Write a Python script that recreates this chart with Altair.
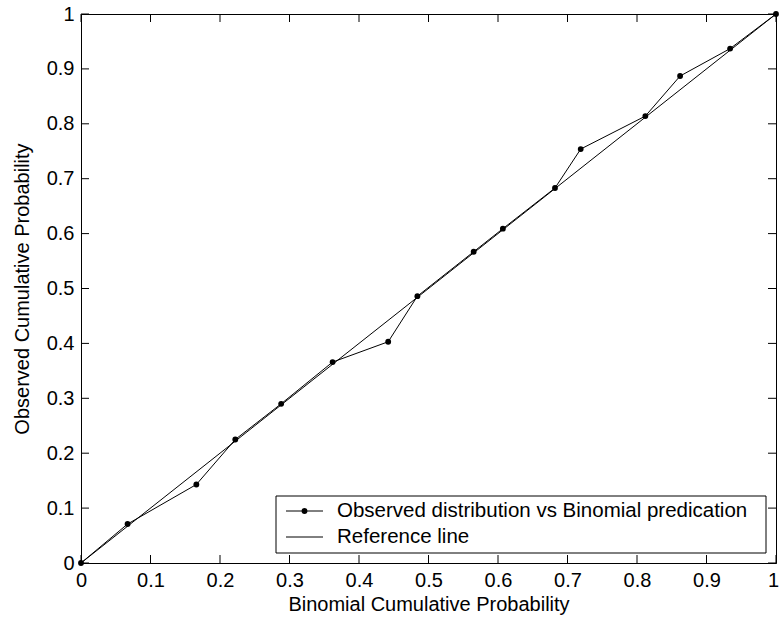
import altair as alt
import pandas as pd

# ---- data ----
obs_x = [0.0, 0.067, 0.166, 0.222, 0.288, 0.362, 0.442, 0.484, 0.565, 0.607, 0.682, 0.719, 0.812, 0.862, 0.934, 1.0]
obs_y = [0.0, 0.071, 0.143, 0.225, 0.290, 0.366, 0.403, 0.486, 0.567, 0.609, 0.683, 0.754, 0.814, 0.887, 0.937, 1.0]
ref_x = [0.0, 1.0]
ref_y = [0.0, 1.0]
tick_vals = [0, 0.1, 0.2, 0.3, 0.4, 0.5, 0.6, 0.7, 0.8, 0.9, 1.0]
legend_labels = ["Observed distribution vs Binomial predication", "Reference line"]
x_title = "Binomial Cumulative Probability"
y_title = "Observed Cumulative Probability"

W, H = 695, 549
FONT = "Liberation Sans"
FS = 20
TL = 8  # inner tick length

obs = pd.DataFrame({"x": obs_x, "y": obs_y})
ref = pd.DataFrame({"x": ref_x, "y": ref_y})
ticks = pd.DataFrame({"x": tick_vals, "y": tick_vals})
one = pd.DataFrame({"a": [0]})

xs = alt.Scale(domain=[0, 1], nice=False, zero=False)
ys = alt.Scale(domain=[0, 1], nice=False, zero=False)

x_axis = alt.Axis(
    values=tick_vals, format="~g", ticks=False, grid=False, labelFlush=False,
    labelOverlap=False, labelBound=False,
    labelOffset={"condition": {"test": "datum.value >= 1", "value": -3}, "value": 0},
    labelPadding=7, labelFont=FONT, labelFontSize=FS, labelColor="black",
    domainColor="black", title=x_title, titleFont=FONT, titleFontSize=FS,
    titleFontWeight="normal", titleColor="black", titleY=41, titleBaseline="middle")
y_axis = alt.Axis(
    values=tick_vals, format="~g", ticks=False, grid=False, labelFlush=False,
    labelOverlap=False, labelBound=False,
    labelPadding=7, labelFont=FONT, labelFontSize=FS, labelColor="black",
    domainColor="black", title=y_title, titleFont=FONT, titleFontSize=FS,
    titleFontWeight="normal", titleColor="black", titleX=-59, titleBaseline="middle")
X = alt.X("x:Q", scale=xs, axis=x_axis, title=x_title)
Y = alt.Y("y:Q", scale=ys, axis=y_axis, title=y_title)

ref_line = alt.Chart(ref).mark_line(color="black", strokeWidth=1).encode(x=X, y=Y)
obs_line = alt.Chart(obs).mark_line(color="black", strokeWidth=1).encode(x=X, y=Y)
obs_pts = alt.Chart(obs).mark_point(filled=True, color="black", size=34, opacity=1).encode(x=X, y=Y)

tick_bottom = alt.Chart(ticks).mark_rule(color="black").encode(x=X, y=alt.value(H), y2=alt.value(H - TL))
tick_top = alt.Chart(ticks).mark_rule(color="black").encode(x=X, y=alt.value(0), y2=alt.value(TL))
tick_left = alt.Chart(ticks).mark_rule(color="black").encode(y=Y, x=alt.value(0), x2=alt.value(TL))
tick_right = alt.Chart(ticks).mark_rule(color="black").encode(y=Y, x=alt.value(W), x2=alt.value(W - TL))

# legend
lx0, lx1, ly0, ly1 = 195, 685, 482, 539
r1, r2 = 497, 523
sx0, sx1, tx0 = 205, 242, 256
leg_box = alt.Chart(one).mark_rect(fill="white", stroke="black", strokeWidth=1).encode(
    x=alt.value(lx0), x2=alt.value(lx1), y=alt.value(ly0), y2=alt.value(ly1))
leg_l1 = alt.Chart(one).mark_rule(color="black", strokeWidth=1).encode(
    x=alt.value(sx0), x2=alt.value(sx1), y=alt.value(r1))
leg_p1 = alt.Chart(one).mark_point(filled=True, color="black", size=34, opacity=1).encode(
    x=alt.value((sx0 + sx1) / 2), y=alt.value(r1))
leg_l2 = alt.Chart(one).mark_rule(color="black", strokeWidth=1).encode(
    x=alt.value(sx0), x2=alt.value(sx1), y=alt.value(r2))
leg_t1 = alt.Chart(pd.DataFrame({"label": [legend_labels[0]]})).mark_text(
    align="left", baseline="middle", font=FONT, fontSize=20.5, color="black").encode(
    text="label:N", x=alt.value(tx0), y=alt.value(r1))
leg_t2 = alt.Chart(pd.DataFrame({"label": [legend_labels[1]]})).mark_text(
    align="left", baseline="middle", font=FONT, fontSize=20.5, color="black").encode(
    text="label:N", x=alt.value(tx0), y=alt.value(r2))

chart = alt.layer(
    ref_line, obs_line, obs_pts,
    tick_bottom, tick_top, tick_left, tick_right,
    leg_box, leg_l1, leg_p1, leg_l2, leg_t1, leg_t2,
).properties(
    width=W, height=H,
    autosize=alt.AutoSizeParams(type="none"),
    padding={"left": 81, "top": 14, "right": 4, "bottom": 59},
    background="white",
).configure_view(stroke="black", strokeWidth=1)

chart.save("out.html", embed_options={"renderer": "svg", "actions": False})
